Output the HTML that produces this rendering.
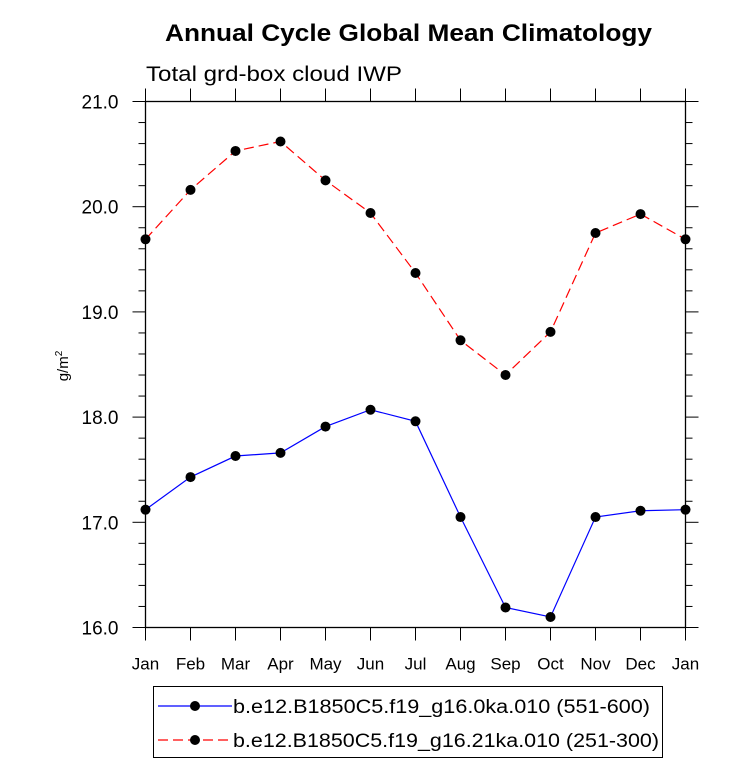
<!DOCTYPE html>
<html><head><meta charset="utf-8"><style>body{margin:0;background:#fff}svg{display:block;font-family:"Liberation Sans",sans-serif}</style></head>
<body>
<svg width="733" height="764" id="c">
<text x="165" y="41" textLength="487" lengthAdjust="spacingAndGlyphs" font-size="24" font-weight="bold">Annual Cycle Global Mean Climatology</text>
<text x="146" y="81" textLength="256" lengthAdjust="spacingAndGlyphs" font-size="21">Total grd-box cloud IWP</text>
<text transform="translate(68,366) rotate(-90)" text-anchor="middle" font-size="15">g/m<tspan font-size="10" dy="-6">2</tspan></text>
<g id="axes"></g><g id="series"></g>
<rect x="153.5" y="686.5" width="509" height="71" fill="none" stroke="#000"/>
<g><line x1="158" y1="706" x2="232" y2="706" stroke="#00f" stroke-width="1.2"/><circle cx="195" cy="706" r="5"/><text x="233" y="713" textLength="417" lengthAdjust="spacingAndGlyphs" font-size="19">b.e12.B1850C5.f19_g16.0ka.010 (551-600)</text></g>
<g><line x1="158" y1="740" x2="232" y2="740" stroke="#f00" stroke-width="1.2" stroke-dasharray="10,5"/><circle cx="195" cy="740" r="5"/><text x="233" y="747" textLength="426" lengthAdjust="spacingAndGlyphs" font-size="19">b.e12.B1850C5.f19_g16.21ka.010 (251-300)</text></g>
</svg>
<script>
const months=["Jan","Feb","Mar","Apr","May","Jun","Jul","Aug","Sep","Oct","Nov","Dec","Jan"];
const blueValues=[17.12,17.43,17.63,17.66,17.91,18.07,17.96,17.05,16.19,16.10,17.05,17.11,17.12];
const redValues=[19.69,20.16,20.53,20.62,20.25,19.94,19.37,18.73,18.40,18.81,19.75,19.93,19.69];
const yTicks=["16.0","17.0","18.0","19.0","20.0","21.0"];
const L=145.5,R=685.5,T=101.5,B=627.5,ymin=16,ymax=21;
const X=i=>L+(R-L)*i/(months.length-1);
const Y=v=>B-(v-ymin)/(ymax-ymin)*(B-T);
const NS="http://www.w3.org/2000/svg";
function mk(p,t,a){const e=document.createElementNS(NS,t);for(const k in a)e.setAttribute(k,a[k]);p.appendChild(e);return e;}
const ax=document.getElementById('axes');
const fr=mk(ax,'rect',{x:L,y:T,width:R-L,height:B-T,fill:'none',stroke:'#000','stroke-width':1.3});


months.forEach((m,i)=>{const x=X(i);
mk(ax,'line',{x1:x,y1:B,x2:x,y2:B+13,stroke:'#000'});
mk(ax,'line',{x1:x,y1:T,x2:x,y2:T-13,stroke:'#000'});
const t=mk(ax,'text',{x:x,y:B+42,'text-anchor':'middle','font-size':17});t.textContent=m;

});
for(let v=ymin;v<=ymax+1e-9;v+=0.2){const y=Y(v);const maj=Math.abs(v-Math.round(v))<1e-6;const len=maj?13:7;
mk(ax,'line',{x1:L-len,y1:y,x2:L,y2:y,stroke:'#000'});mk(ax,'line',{x1:R,y1:y,x2:R+len,y2:y,stroke:'#000'});}
yTicks.forEach(s=>{const t=mk(ax,'text',{x:L-27,y:Y(+s)+7,'text-anchor':'end','font-size':19});t.textContent=s;

});
const sg=document.getElementById('series');
function series(vals,color,dash,name){const g=mk(sg,'g',{});


mk(g,'polyline',{points:vals.map((v,i)=>X(i)+','+Y(v)).join(' '),fill:'none',stroke:color,'stroke-width':1.2,'stroke-dasharray':dash});
vals.forEach((v,i)=>{const c=mk(g,'circle',{cx:X(i),cy:Y(v),r:5});

});}
series(redValues,'#f00','10,5','series-21ka');
series(blueValues,'#00f','none','series-0ka');
</script>
</body></html>
